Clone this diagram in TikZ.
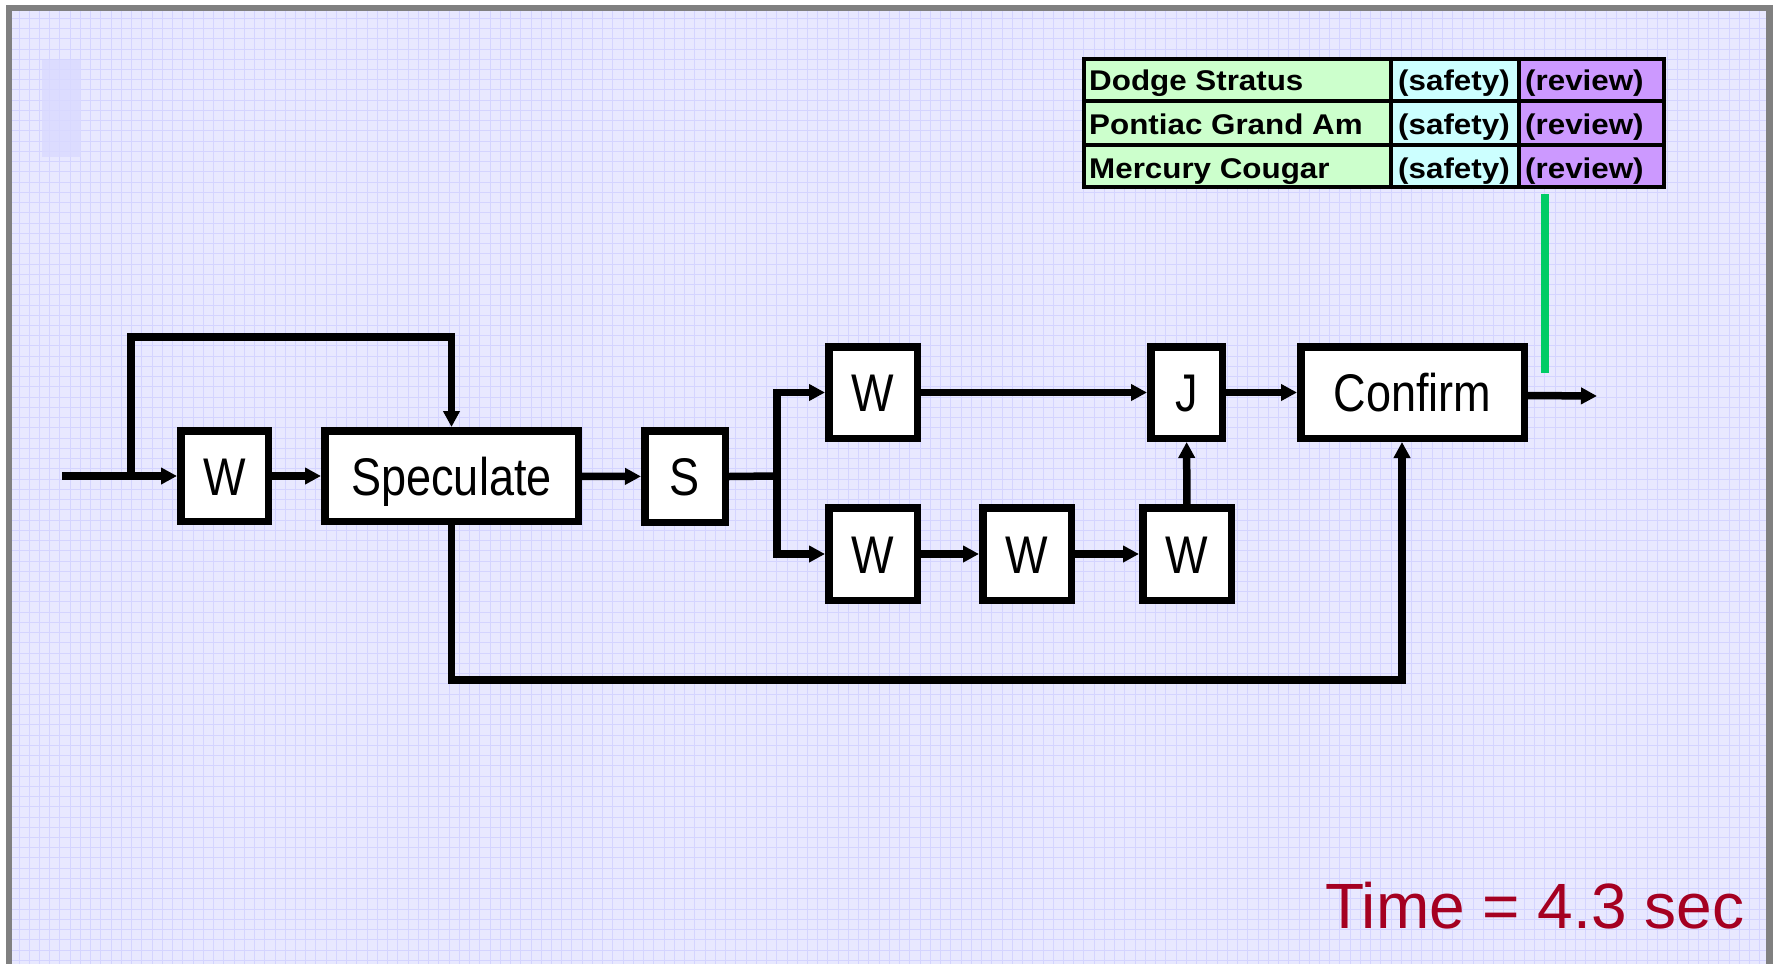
\documentclass[tikz,border=0pt]{standalone}
\usepackage{fontspec}
\setmainfont{Liberation Sans}
\newfontfamily\narrowfont{Liberation Sans}[FakeStretch=0.85]
\newfontfamily\widefont{Liberation Sans}[FakeStretch=1.1]
\usetikzlibrary{arrows.meta}
\definecolor{bgpage}{RGB}{232,232,255}
\definecolor{gridc}{RGB}{212,212,255}
\definecolor{faint}{RGB}{218,218,255}
\definecolor{framec}{RGB}{128,128,128}
\definecolor{cgreen}{RGB}{204,255,204}
\definecolor{ccyan}{RGB}{204,255,255}
\definecolor{cpurple}{RGB}{204,153,255}
\definecolor{gline}{RGB}{0,204,102}
\definecolor{timered}{RGB}{165,0,33}
\begin{document}
\begin{tikzpicture}[x=1pt,y=-1pt,
  box/.style={draw=black, line width=7.5pt, fill=white, inner sep=0pt,
    text height=38.5pt, text depth=0pt,
    font=\narrowfont\fontsize{53}{53}\selectfont},
  conn/.style={line width=7.5pt, line join=miter},
  arr/.style={conn, -{Triangle[length=16pt,width=16pt]}},
  cell/.style={draw=black, line width=3.5pt, inner sep=0pt, outer sep=0pt, anchor=north west},
  celltext/.style={anchor=base west, inner sep=0pt,
    font=\widefont\bfseries\fontsize{28.5}{28.5}\selectfont},
]
\useasboundingbox (0,0) rectangle (1773,964);
% page frame and background
\fill[white] (0,0) rectangle (1773,964);
\fill[framec] (6,5) rectangle (1773,964);
\fill[bgpage] (12,11) rectangle (1766,964);
\begin{scope}
\clip (12,11) rectangle (1766,964);
\foreach \i in {0,...,170} \draw[gridc, line width=1pt] ({19+10.24*\i},11) -- ({19+10.24*\i},964);
\foreach \i in {0,...,92} \draw[gridc, line width=1pt] (12,{18.3+10.24*\i}) -- (1766,{18.3+10.24*\i});
\end{scope}
\fill[faint, opacity=0.8] (42,60) rectangle (81,157);

% table
\node[cell, fill=cgreen,  minimum width=307, minimum height=42] (t11) at (1084,59) {};
\node[cell, fill=ccyan,   minimum width=128, minimum height=42] (t12) at (1391,59) {};
\node[cell, fill=cpurple, minimum width=145, minimum height=42] (t13) at (1519,59) {};
\node[cell, fill=cgreen,  minimum width=307, minimum height=44] (t21) at (1084,101) {};
\node[cell, fill=ccyan,   minimum width=128, minimum height=44] (t22) at (1391,101) {};
\node[cell, fill=cpurple, minimum width=145, minimum height=44] (t23) at (1519,101) {};
\node[cell, fill=cgreen,  minimum width=307, minimum height=42] (t31) at (1084,145) {};
\node[cell, fill=ccyan,   minimum width=128, minimum height=42] (t32) at (1391,145) {};
\node[cell, fill=cpurple, minimum width=145, minimum height=42] (t33) at (1519,145) {};
\node[celltext] (l11) at (1089,90) {Dodge Stratus};
\node[celltext] (l12) at (1398,90) {(safety)};
\node[celltext] (l13) at (1525,90) {(review)};
\node[celltext] (l21) at (1089,134) {Pontiac Grand Am};
\node[celltext] (l22) at (1398,134) {(safety)};
\node[celltext] (l23) at (1525,134) {(review)};
\node[celltext] (l31) at (1089,178) {Mercury Cougar};
\node[celltext] (l32) at (1398,178) {(safety)};
\node[celltext] (l33) at (1525,178) {(review)};

% green marker
\coordinate (g1) at (1545,194);
\coordinate (g2) at (1545,373);
\draw[gline, line width=8pt] (g1) -- (g2);

% boxes
\node[box, minimum width=87.5, minimum height=90.5] (W1) at (224.5,476) {W};
\node[box, minimum width=253.5, minimum height=90.5] (Spec) at (451.5,476) {Speculate};
\node[box, minimum width=80.5, minimum height=91.5] (S) at (685,476.5) {S};
\node[box, minimum width=88.5, minimum height=91.5] (Wt) at (873,392.5) {W};
\node[box, minimum width=71.5, minimum height=91.5] (J) at (1186.5,392.5) {J};
\node[box, minimum width=223.5, minimum height=91.5] (Conf) at (1412.5,392.5) {Confirm};
\node[box, minimum width=88.5, minimum height=92.5] (Wb1) at (873,554) {W};
\node[box, minimum width=88.5, minimum height=92.5] (Wb2) at (1027,554) {W};
\node[box, minimum width=88.5, minimum height=92.5] (Wb3) at (1187,554) {W};

% connectors
\coordinate (in) at (62,476);
\coordinate (loop) at (131,476);
\coordinate (looptop) at (131,337);
\coordinate (br) at (777,476);
\coordinate (out) at (1597,396);
\coordinate (bot) at (1402,680);
\draw[arr] (in) -- (W1.west);
\draw[arr] (loop) -- (looptop) -| (Spec.north);
\draw[arr] (W1) -- (Spec);
\draw[arr] (Spec) -- (S);
\draw[conn] (S.east) -- (br);
\draw[arr] (br) |- (Wt.west);
\draw[arr] (br) |- (Wb1.west);
\draw[arr] (Wt) -- (J);
\draw[arr] (Wb1) -- (Wb2);
\draw[arr] (Wb2) -- (Wb3);
\draw[arr] (Wb3) -- (J);
\draw[arr] (J) -- (Conf);
\draw[arr] ([yshift=-3pt]Conf.east) -- (out);
\draw[arr] (Spec.south) |- (bot) -- (bot |- Conf.south);

% time
\node[anchor=base west, inner sep=0pt, text=timered, font=\fontsize{64}{64}\selectfont] (time) at (1325,928) {Time = 4.3 sec};
\end{tikzpicture}
\end{document}
